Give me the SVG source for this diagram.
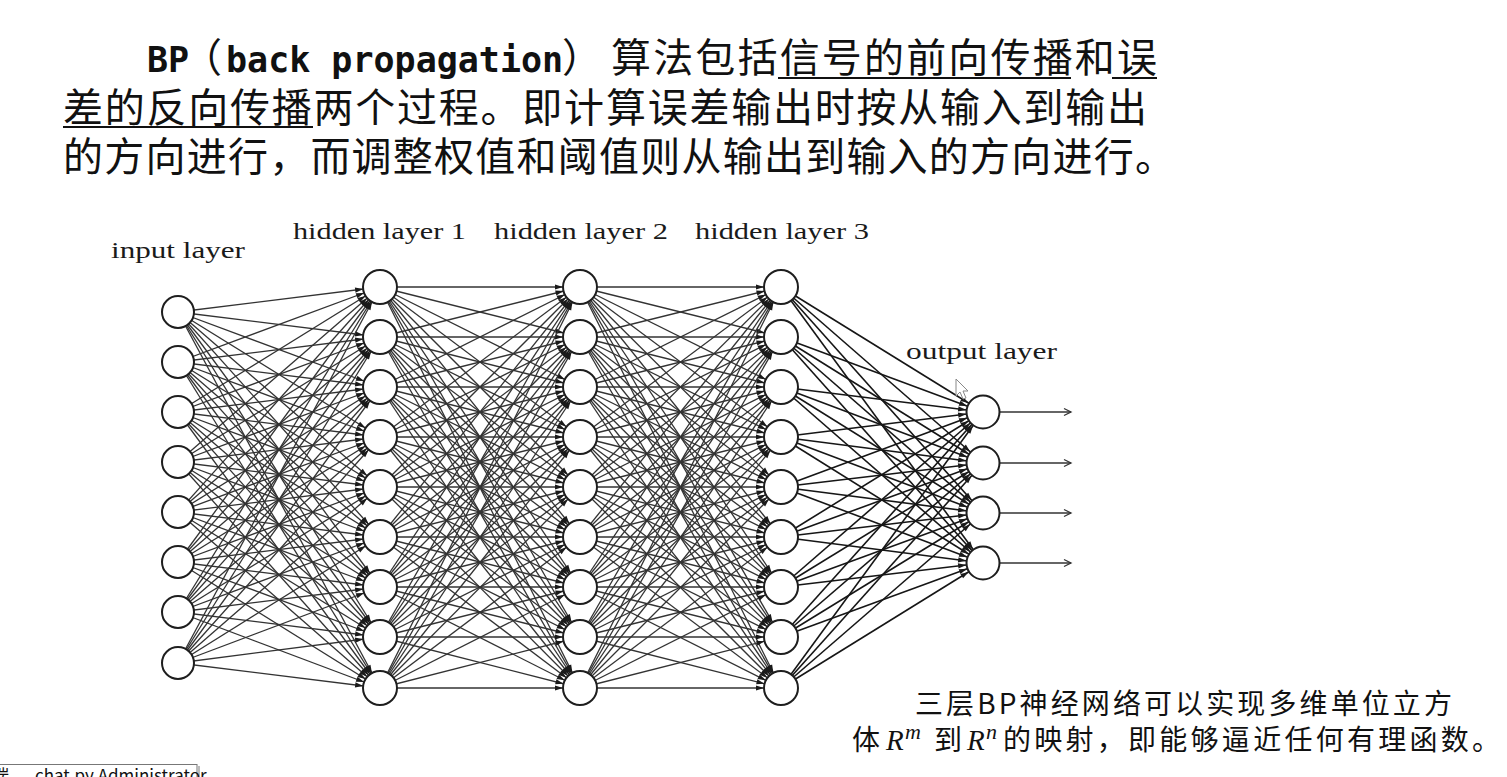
<svg xmlns="http://www.w3.org/2000/svg" width="1507" height="777" viewBox="0 0 1507 777">
<style>
.cjk{font-family:"Noto Sans CJK SC",sans-serif;fill:#111}
.mono{font-family:"DejaVu Sans Mono",monospace;font-weight:bold}
.top{font-size:40px}
.lbl{font-family:"Liberation Serif",serif;font-size:24px;fill:#1a1a1a}
.note{font-size:28px}
.math{font-family:"Liberation Serif",serif;font-style:italic}
.node{fill:#fff;stroke:#1e1e1e;stroke-width:2}
.conn line{stroke:#333;stroke-width:1.3;marker-end:url(#ah)}
.conn.last line{stroke:#161616;stroke-width:1.6}
.outs line{stroke:#333;stroke-width:1.5;marker-end:url(#oa)}
.ul{stroke:#111;stroke-width:2}
</style>
<defs>
<marker id="ah" markerUnits="userSpaceOnUse" orient="auto" refX="0" refY="0" markerWidth="40" markerHeight="10" overflow="visible"><path d="M-25,-2.6 L-17,0 L-25,2.6 z" fill="#1a1a1a"/></marker>
<marker id="oa" markerUnits="userSpaceOnUse" orient="auto" refX="0" refY="0" markerWidth="12" markerHeight="10" overflow="visible"><path d="M-7,-3.5 L0,0 L-7,3.5" fill="none" stroke="#333" stroke-width="1.3"/></marker>
</defs>
<rect width="1507" height="777" fill="#fff"/>
<g id="title">
<text class="cjk top" y="72"><tspan class="mono" x="147" font-size="35">BP</tspan><tspan x="182">（</tspan><tspan class="mono" x="226" font-size="35">back propagation</tspan><tspan x="562">）</tspan><tspan x="611" textLength="546" lengthAdjust="spacing">算法包括信号的前向传播和误</tspan></text>
<text class="cjk top" x="63" y="122" textLength="1084" lengthAdjust="spacing">差的反向传播两个过程。即计算误差输出时按从输入到输出</text>
<text class="cjk top" x="63" y="171" textLength="1112" lengthAdjust="spacing">的方向进行，而调整权值和阈值则从输出到输入的方向进行。</text>
<line class="ul" x1="778" y1="78" x2="1071" y2="78"/>
<line class="ul" x1="1112" y1="78" x2="1157" y2="78"/>
<line class="ul" x1="63" y1="127" x2="313" y2="127"/>
</g>
<g id="connectors">
<g class="conn">
<line x1="178" y1="312" x2="380" y2="287"/><line x1="178" y1="312" x2="380" y2="337"/><line x1="178" y1="312" x2="380" y2="387"/><line x1="178" y1="312" x2="380" y2="437"/><line x1="178" y1="312" x2="380" y2="487"/><line x1="178" y1="312" x2="380" y2="537"/><line x1="178" y1="312" x2="380" y2="587"/><line x1="178" y1="312" x2="380" y2="637"/><line x1="178" y1="312" x2="380" y2="688"/>
<line x1="178" y1="362" x2="380" y2="287"/><line x1="178" y1="362" x2="380" y2="337"/><line x1="178" y1="362" x2="380" y2="387"/><line x1="178" y1="362" x2="380" y2="437"/><line x1="178" y1="362" x2="380" y2="487"/><line x1="178" y1="362" x2="380" y2="537"/><line x1="178" y1="362" x2="380" y2="587"/><line x1="178" y1="362" x2="380" y2="637"/><line x1="178" y1="362" x2="380" y2="688"/>
<line x1="178" y1="412" x2="380" y2="287"/><line x1="178" y1="412" x2="380" y2="337"/><line x1="178" y1="412" x2="380" y2="387"/><line x1="178" y1="412" x2="380" y2="437"/><line x1="178" y1="412" x2="380" y2="487"/><line x1="178" y1="412" x2="380" y2="537"/><line x1="178" y1="412" x2="380" y2="587"/><line x1="178" y1="412" x2="380" y2="637"/><line x1="178" y1="412" x2="380" y2="688"/>
<line x1="178" y1="462" x2="380" y2="287"/><line x1="178" y1="462" x2="380" y2="337"/><line x1="178" y1="462" x2="380" y2="387"/><line x1="178" y1="462" x2="380" y2="437"/><line x1="178" y1="462" x2="380" y2="487"/><line x1="178" y1="462" x2="380" y2="537"/><line x1="178" y1="462" x2="380" y2="587"/><line x1="178" y1="462" x2="380" y2="637"/><line x1="178" y1="462" x2="380" y2="688"/>
<line x1="178" y1="512" x2="380" y2="287"/><line x1="178" y1="512" x2="380" y2="337"/><line x1="178" y1="512" x2="380" y2="387"/><line x1="178" y1="512" x2="380" y2="437"/><line x1="178" y1="512" x2="380" y2="487"/><line x1="178" y1="512" x2="380" y2="537"/><line x1="178" y1="512" x2="380" y2="587"/><line x1="178" y1="512" x2="380" y2="637"/><line x1="178" y1="512" x2="380" y2="688"/>
<line x1="178" y1="562" x2="380" y2="287"/><line x1="178" y1="562" x2="380" y2="337"/><line x1="178" y1="562" x2="380" y2="387"/><line x1="178" y1="562" x2="380" y2="437"/><line x1="178" y1="562" x2="380" y2="487"/><line x1="178" y1="562" x2="380" y2="537"/><line x1="178" y1="562" x2="380" y2="587"/><line x1="178" y1="562" x2="380" y2="637"/><line x1="178" y1="562" x2="380" y2="688"/>
<line x1="178" y1="612" x2="380" y2="287"/><line x1="178" y1="612" x2="380" y2="337"/><line x1="178" y1="612" x2="380" y2="387"/><line x1="178" y1="612" x2="380" y2="437"/><line x1="178" y1="612" x2="380" y2="487"/><line x1="178" y1="612" x2="380" y2="537"/><line x1="178" y1="612" x2="380" y2="587"/><line x1="178" y1="612" x2="380" y2="637"/><line x1="178" y1="612" x2="380" y2="688"/>
<line x1="178" y1="663" x2="380" y2="287"/><line x1="178" y1="663" x2="380" y2="337"/><line x1="178" y1="663" x2="380" y2="387"/><line x1="178" y1="663" x2="380" y2="437"/><line x1="178" y1="663" x2="380" y2="487"/><line x1="178" y1="663" x2="380" y2="537"/><line x1="178" y1="663" x2="380" y2="587"/><line x1="178" y1="663" x2="380" y2="637"/><line x1="178" y1="663" x2="380" y2="688"/>

<line x1="380" y1="287" x2="580" y2="287"/><line x1="380" y1="287" x2="580" y2="337"/><line x1="380" y1="287" x2="580" y2="387"/><line x1="380" y1="287" x2="580" y2="437"/><line x1="380" y1="287" x2="580" y2="487"/><line x1="380" y1="287" x2="580" y2="537"/><line x1="380" y1="287" x2="580" y2="587"/><line x1="380" y1="287" x2="580" y2="637"/><line x1="380" y1="287" x2="580" y2="688"/>
<line x1="380" y1="337" x2="580" y2="287"/><line x1="380" y1="337" x2="580" y2="337"/><line x1="380" y1="337" x2="580" y2="387"/><line x1="380" y1="337" x2="580" y2="437"/><line x1="380" y1="337" x2="580" y2="487"/><line x1="380" y1="337" x2="580" y2="537"/><line x1="380" y1="337" x2="580" y2="587"/><line x1="380" y1="337" x2="580" y2="637"/><line x1="380" y1="337" x2="580" y2="688"/>
<line x1="380" y1="387" x2="580" y2="287"/><line x1="380" y1="387" x2="580" y2="337"/><line x1="380" y1="387" x2="580" y2="387"/><line x1="380" y1="387" x2="580" y2="437"/><line x1="380" y1="387" x2="580" y2="487"/><line x1="380" y1="387" x2="580" y2="537"/><line x1="380" y1="387" x2="580" y2="587"/><line x1="380" y1="387" x2="580" y2="637"/><line x1="380" y1="387" x2="580" y2="688"/>
<line x1="380" y1="437" x2="580" y2="287"/><line x1="380" y1="437" x2="580" y2="337"/><line x1="380" y1="437" x2="580" y2="387"/><line x1="380" y1="437" x2="580" y2="437"/><line x1="380" y1="437" x2="580" y2="487"/><line x1="380" y1="437" x2="580" y2="537"/><line x1="380" y1="437" x2="580" y2="587"/><line x1="380" y1="437" x2="580" y2="637"/><line x1="380" y1="437" x2="580" y2="688"/>
<line x1="380" y1="487" x2="580" y2="287"/><line x1="380" y1="487" x2="580" y2="337"/><line x1="380" y1="487" x2="580" y2="387"/><line x1="380" y1="487" x2="580" y2="437"/><line x1="380" y1="487" x2="580" y2="487"/><line x1="380" y1="487" x2="580" y2="537"/><line x1="380" y1="487" x2="580" y2="587"/><line x1="380" y1="487" x2="580" y2="637"/><line x1="380" y1="487" x2="580" y2="688"/>
<line x1="380" y1="537" x2="580" y2="287"/><line x1="380" y1="537" x2="580" y2="337"/><line x1="380" y1="537" x2="580" y2="387"/><line x1="380" y1="537" x2="580" y2="437"/><line x1="380" y1="537" x2="580" y2="487"/><line x1="380" y1="537" x2="580" y2="537"/><line x1="380" y1="537" x2="580" y2="587"/><line x1="380" y1="537" x2="580" y2="637"/><line x1="380" y1="537" x2="580" y2="688"/>
<line x1="380" y1="587" x2="580" y2="287"/><line x1="380" y1="587" x2="580" y2="337"/><line x1="380" y1="587" x2="580" y2="387"/><line x1="380" y1="587" x2="580" y2="437"/><line x1="380" y1="587" x2="580" y2="487"/><line x1="380" y1="587" x2="580" y2="537"/><line x1="380" y1="587" x2="580" y2="587"/><line x1="380" y1="587" x2="580" y2="637"/><line x1="380" y1="587" x2="580" y2="688"/>
<line x1="380" y1="637" x2="580" y2="287"/><line x1="380" y1="637" x2="580" y2="337"/><line x1="380" y1="637" x2="580" y2="387"/><line x1="380" y1="637" x2="580" y2="437"/><line x1="380" y1="637" x2="580" y2="487"/><line x1="380" y1="637" x2="580" y2="537"/><line x1="380" y1="637" x2="580" y2="587"/><line x1="380" y1="637" x2="580" y2="637"/><line x1="380" y1="637" x2="580" y2="688"/>
<line x1="380" y1="688" x2="580" y2="287"/><line x1="380" y1="688" x2="580" y2="337"/><line x1="380" y1="688" x2="580" y2="387"/><line x1="380" y1="688" x2="580" y2="437"/><line x1="380" y1="688" x2="580" y2="487"/><line x1="380" y1="688" x2="580" y2="537"/><line x1="380" y1="688" x2="580" y2="587"/><line x1="380" y1="688" x2="580" y2="637"/><line x1="380" y1="688" x2="580" y2="688"/>

<line x1="580" y1="287" x2="781" y2="287"/><line x1="580" y1="287" x2="781" y2="337"/><line x1="580" y1="287" x2="781" y2="387"/><line x1="580" y1="287" x2="781" y2="437"/><line x1="580" y1="287" x2="781" y2="487"/><line x1="580" y1="287" x2="781" y2="537"/><line x1="580" y1="287" x2="781" y2="587"/><line x1="580" y1="287" x2="781" y2="637"/><line x1="580" y1="287" x2="781" y2="688"/>
<line x1="580" y1="337" x2="781" y2="287"/><line x1="580" y1="337" x2="781" y2="337"/><line x1="580" y1="337" x2="781" y2="387"/><line x1="580" y1="337" x2="781" y2="437"/><line x1="580" y1="337" x2="781" y2="487"/><line x1="580" y1="337" x2="781" y2="537"/><line x1="580" y1="337" x2="781" y2="587"/><line x1="580" y1="337" x2="781" y2="637"/><line x1="580" y1="337" x2="781" y2="688"/>
<line x1="580" y1="387" x2="781" y2="287"/><line x1="580" y1="387" x2="781" y2="337"/><line x1="580" y1="387" x2="781" y2="387"/><line x1="580" y1="387" x2="781" y2="437"/><line x1="580" y1="387" x2="781" y2="487"/><line x1="580" y1="387" x2="781" y2="537"/><line x1="580" y1="387" x2="781" y2="587"/><line x1="580" y1="387" x2="781" y2="637"/><line x1="580" y1="387" x2="781" y2="688"/>
<line x1="580" y1="437" x2="781" y2="287"/><line x1="580" y1="437" x2="781" y2="337"/><line x1="580" y1="437" x2="781" y2="387"/><line x1="580" y1="437" x2="781" y2="437"/><line x1="580" y1="437" x2="781" y2="487"/><line x1="580" y1="437" x2="781" y2="537"/><line x1="580" y1="437" x2="781" y2="587"/><line x1="580" y1="437" x2="781" y2="637"/><line x1="580" y1="437" x2="781" y2="688"/>
<line x1="580" y1="487" x2="781" y2="287"/><line x1="580" y1="487" x2="781" y2="337"/><line x1="580" y1="487" x2="781" y2="387"/><line x1="580" y1="487" x2="781" y2="437"/><line x1="580" y1="487" x2="781" y2="487"/><line x1="580" y1="487" x2="781" y2="537"/><line x1="580" y1="487" x2="781" y2="587"/><line x1="580" y1="487" x2="781" y2="637"/><line x1="580" y1="487" x2="781" y2="688"/>
<line x1="580" y1="537" x2="781" y2="287"/><line x1="580" y1="537" x2="781" y2="337"/><line x1="580" y1="537" x2="781" y2="387"/><line x1="580" y1="537" x2="781" y2="437"/><line x1="580" y1="537" x2="781" y2="487"/><line x1="580" y1="537" x2="781" y2="537"/><line x1="580" y1="537" x2="781" y2="587"/><line x1="580" y1="537" x2="781" y2="637"/><line x1="580" y1="537" x2="781" y2="688"/>
<line x1="580" y1="587" x2="781" y2="287"/><line x1="580" y1="587" x2="781" y2="337"/><line x1="580" y1="587" x2="781" y2="387"/><line x1="580" y1="587" x2="781" y2="437"/><line x1="580" y1="587" x2="781" y2="487"/><line x1="580" y1="587" x2="781" y2="537"/><line x1="580" y1="587" x2="781" y2="587"/><line x1="580" y1="587" x2="781" y2="637"/><line x1="580" y1="587" x2="781" y2="688"/>
<line x1="580" y1="637" x2="781" y2="287"/><line x1="580" y1="637" x2="781" y2="337"/><line x1="580" y1="637" x2="781" y2="387"/><line x1="580" y1="637" x2="781" y2="437"/><line x1="580" y1="637" x2="781" y2="487"/><line x1="580" y1="637" x2="781" y2="537"/><line x1="580" y1="637" x2="781" y2="587"/><line x1="580" y1="637" x2="781" y2="637"/><line x1="580" y1="637" x2="781" y2="688"/>
<line x1="580" y1="688" x2="781" y2="287"/><line x1="580" y1="688" x2="781" y2="337"/><line x1="580" y1="688" x2="781" y2="387"/><line x1="580" y1="688" x2="781" y2="437"/><line x1="580" y1="688" x2="781" y2="487"/><line x1="580" y1="688" x2="781" y2="537"/><line x1="580" y1="688" x2="781" y2="587"/><line x1="580" y1="688" x2="781" y2="637"/><line x1="580" y1="688" x2="781" y2="688"/>
</g>
<g class="conn last">
<line x1="781" y1="287" x2="983" y2="412"/><line x1="781" y1="287" x2="983" y2="463"/><line x1="781" y1="287" x2="983" y2="513"/><line x1="781" y1="287" x2="983" y2="563"/>
<line x1="781" y1="337" x2="983" y2="412"/><line x1="781" y1="337" x2="983" y2="463"/><line x1="781" y1="337" x2="983" y2="513"/><line x1="781" y1="337" x2="983" y2="563"/>
<line x1="781" y1="387" x2="983" y2="412"/><line x1="781" y1="387" x2="983" y2="463"/><line x1="781" y1="387" x2="983" y2="513"/><line x1="781" y1="387" x2="983" y2="563"/>
<line x1="781" y1="437" x2="983" y2="412"/><line x1="781" y1="437" x2="983" y2="463"/><line x1="781" y1="437" x2="983" y2="513"/><line x1="781" y1="437" x2="983" y2="563"/>
<line x1="781" y1="487" x2="983" y2="412"/><line x1="781" y1="487" x2="983" y2="463"/><line x1="781" y1="487" x2="983" y2="513"/><line x1="781" y1="487" x2="983" y2="563"/>
<line x1="781" y1="537" x2="983" y2="412"/><line x1="781" y1="537" x2="983" y2="463"/><line x1="781" y1="537" x2="983" y2="513"/><line x1="781" y1="537" x2="983" y2="563"/>
<line x1="781" y1="587" x2="983" y2="412"/><line x1="781" y1="587" x2="983" y2="463"/><line x1="781" y1="587" x2="983" y2="513"/><line x1="781" y1="587" x2="983" y2="563"/>
<line x1="781" y1="637" x2="983" y2="412"/><line x1="781" y1="637" x2="983" y2="463"/><line x1="781" y1="637" x2="983" y2="513"/><line x1="781" y1="637" x2="983" y2="563"/>
<line x1="781" y1="688" x2="983" y2="412"/><line x1="781" y1="688" x2="983" y2="463"/><line x1="781" y1="688" x2="983" y2="513"/><line x1="781" y1="688" x2="983" y2="563"/>
</g>
<g class="outs">
<line x1="999" y1="412" x2="1071" y2="412"/><line x1="999" y1="463" x2="1071" y2="463"/><line x1="999" y1="513" x2="1071" y2="513"/><line x1="999" y1="563" x2="1071" y2="563"/>
</g>
</g>
<g id="input-layer">
<circle class="node" cx="178" cy="312" r="16"/><circle class="node" cx="178" cy="362" r="16"/><circle class="node" cx="178" cy="412" r="16"/><circle class="node" cx="178" cy="462" r="16"/><circle class="node" cx="178" cy="512" r="16"/><circle class="node" cx="178" cy="562" r="16"/><circle class="node" cx="178" cy="612" r="16"/><circle class="node" cx="178" cy="663" r="16"/>
<text class="lbl" x="111" y="258" textLength="134" lengthAdjust="spacingAndGlyphs">input layer</text>
</g>
<g id="hidden-layer-1">
<circle class="node" cx="380" cy="287" r="17"/><circle class="node" cx="380" cy="337" r="17"/><circle class="node" cx="380" cy="387" r="17"/><circle class="node" cx="380" cy="437" r="17"/><circle class="node" cx="380" cy="487" r="17"/><circle class="node" cx="380" cy="537" r="17"/><circle class="node" cx="380" cy="587" r="17"/><circle class="node" cx="380" cy="637" r="17"/><circle class="node" cx="380" cy="688" r="17"/>
<text class="lbl" x="293" y="239" textLength="173" lengthAdjust="spacingAndGlyphs">hidden layer 1</text>
</g>
<g id="hidden-layer-2">
<circle class="node" cx="580" cy="287" r="17"/><circle class="node" cx="580" cy="337" r="17"/><circle class="node" cx="580" cy="387" r="17"/><circle class="node" cx="580" cy="437" r="17"/><circle class="node" cx="580" cy="487" r="17"/><circle class="node" cx="580" cy="537" r="17"/><circle class="node" cx="580" cy="587" r="17"/><circle class="node" cx="580" cy="637" r="17"/><circle class="node" cx="580" cy="688" r="17"/>
<text class="lbl" x="494" y="239" textLength="174" lengthAdjust="spacingAndGlyphs">hidden layer 2</text>
</g>
<g id="hidden-layer-3">
<circle class="node" cx="781" cy="287" r="17"/><circle class="node" cx="781" cy="337" r="17"/><circle class="node" cx="781" cy="387" r="17"/><circle class="node" cx="781" cy="437" r="17"/><circle class="node" cx="781" cy="487" r="17"/><circle class="node" cx="781" cy="537" r="17"/><circle class="node" cx="781" cy="587" r="17"/><circle class="node" cx="781" cy="637" r="17"/><circle class="node" cx="781" cy="688" r="17"/>
<text class="lbl" x="695" y="239" textLength="174" lengthAdjust="spacingAndGlyphs">hidden layer 3</text>
</g>
<g id="output-layer">
<circle class="node" cx="983" cy="412" r="16.5"/><circle class="node" cx="983" cy="463" r="16.5"/><circle class="node" cx="983" cy="513" r="16.5"/><circle class="node" cx="983" cy="563" r="16.5"/>
<text class="lbl" x="906" y="359" textLength="151" lengthAdjust="spacingAndGlyphs">output layer</text>
</g>
<g id="cursor">
<polygon points="956,379 956,396 960,392 963,399 966,398 963,391 968,391" fill="#fff" stroke="#888" stroke-width="1"/>
</g>
<g id="note">
<text class="cjk note" x="915" y="714" textLength="537" lengthAdjust="spacing">三层BP神经网络可以实现多维单位立方</text>
<text class="cjk note" y="750"><tspan x="852">体</tspan><tspan class="math" x="886" font-size="29">R</tspan><tspan class="math" x="905" dy="-11" font-size="22">m</tspan><tspan x="934" dy="11">到</tspan><tspan class="math" x="967" font-size="29">R</tspan><tspan class="math" x="986" dy="-11" font-size="22">n</tspan><tspan x="1003" dy="11" textLength="497" lengthAdjust="spacing">的映射，即能够逼近任何有理函数。</tspan></text>
</g>
<g id="taskbar-tip">
<rect x="-2" y="764.5" width="199" height="16" fill="#fff" stroke="#777" stroke-width="1"/>
<rect x="197.5" y="766" width="2.5" height="12" fill="#bbb"/>
<text class="cjk" x="-8" y="782" font-size="17" fill="#333">端<tspan x="35">chat.py Administrator</tspan></text>
</g>
</svg>
